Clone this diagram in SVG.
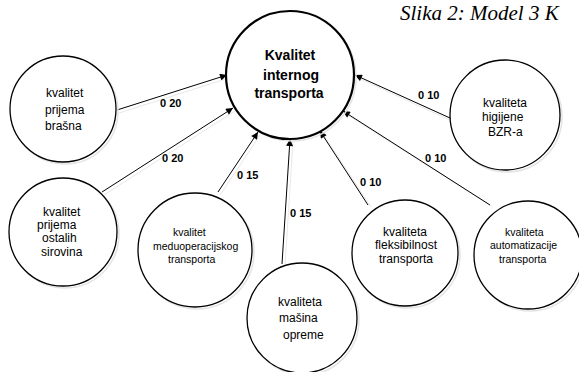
<svg xmlns="http://www.w3.org/2000/svg" width="579" height="372" viewBox="0 0 579 372">
  <defs>
    <marker id="arrow" viewBox="0 0 10 10" refX="10" refY="5" markerWidth="8" markerHeight="7" markerUnits="userSpaceOnUse" orient="auto">
      <path d="M0,0 L10,5 L0,10 z" fill="#000"/>
    </marker>
  </defs>
  <style>
    .node { fill: #fff; stroke: #000; stroke-width: 1.3; }
    .main { fill: #fff; stroke: #000; stroke-width: 2.2; }
    .shadow { fill: none; stroke: #e4e4e4; stroke-width: 1.5; }
    .edge { stroke: #000; stroke-width: 1; fill: none; }
    .edge-shadow { stroke: #e8e8e8; stroke-width: 1; fill: none; }
    .t { font-family: "Liberation Sans", Arial, sans-serif; font-size: 12px; fill: #000; }
    .ts { font-family: "Liberation Sans", Arial, sans-serif; font-size: 10.5px; fill: #000; }
    .tm { font-family: "Liberation Sans", Arial, sans-serif; font-size: 14px; font-weight: bold; fill: #000; text-anchor: middle; }
    .lbl { font-family: "Liberation Sans", Arial, sans-serif; font-size: 11px; font-weight: bold; fill: #000; }
    .cap { font-family: "Liberation Serif", "Times New Roman", serif; font-size: 21px; font-style: italic; fill: #000; }
  </style>

  <rect width="579" height="372" fill="#fff"/>

  <!-- caption -->
  <text class="cap" x="400" y="19.5">Slika 2: Model 3 K</text>

  <!-- connectors -->
  <g id="connectors">
    <g class="edge-shadow">
      <line x1="119" y1="113" x2="229" y2="78"/>
      <line x1="104" y1="195" x2="235" y2="111"/>
      <line x1="220" y1="195" x2="260" y2="135"/>
      <line x1="285" y1="266" x2="293" y2="141"/>
      <line x1="371" y1="207" x2="323" y2="134"/>
      <line x1="493" y1="207" x2="346" y2="114"/>
      <line x1="452" y1="121" x2="358" y2="78"/>
    </g>
    <line class="edge" x1="117" y1="110" x2="227" y2="75" marker-end="url(#arrow)"/>
    <line class="edge" x1="102" y1="192" x2="233" y2="108" marker-end="url(#arrow)"/>
    <line class="edge" x1="218" y1="192" x2="258" y2="132" marker-end="url(#arrow)"/>
    <line class="edge" x1="282" y1="264" x2="290" y2="139" marker-end="url(#arrow)"/>
    <line class="edge" x1="368" y1="205" x2="320" y2="131" marker-end="url(#arrow)"/>
    <line class="edge" x1="490" y1="205" x2="343" y2="111" marker-end="url(#arrow)"/>
    <line class="edge" x1="450" y1="118" x2="355" y2="75" marker-end="url(#arrow)"/>

    <text class="lbl" x="160" y="107">0 20</text>
    <text class="lbl" x="162" y="162">0 20</text>
    <text class="lbl" x="237" y="179">0 15</text>
    <text class="lbl" x="290" y="217">0 15</text>
    <text class="lbl" x="360" y="186">0 10</text>
    <text class="lbl" x="425" y="162">0 10</text>
    <text class="lbl" x="418" y="99">0 10</text>
  </g>

  <!-- central node -->
  <g id="kvalitet-internog-transporta">
    <circle class="shadow" cx="292" cy="77" r="64"/>
    <circle class="main" cx="290" cy="75" r="64"/>
    <text class="tm" x="290" y="60">Kvalitet</text>
    <text class="tm" x="291" y="80">internog</text>
    <text class="tm" x="289" y="98">transporta</text>
  </g>

  <g id="prijem-brasna">
    <circle class="shadow" cx="65" cy="111" r="53"/>
    <circle class="node" cx="63" cy="109" r="53"/>
    <text class="t" x="46" y="97">kvalitet</text>
    <text class="t" x="45" y="114">prijema</text>
    <text class="t" x="45" y="130">brašna</text>
  </g>

  <g id="prijem-ostalih-sirovina">
    <circle class="shadow" cx="65" cy="234" r="54"/>
    <circle class="node" cx="63" cy="232" r="54"/>
    <text class="t" x="43" y="216">kvalitet</text>
    <text class="t" x="37" y="229">prijema</text>
    <text class="t" x="42" y="242">ostalih</text>
    <text class="t" x="41" y="256">sirovina</text>
  </g>

  <g id="meduoperacijski-transport">
    <circle class="shadow" cx="197" cy="252" r="57"/>
    <circle class="node" cx="195" cy="250" r="57"/>
    <text class="ts" x="173" y="236">kvalitet</text>
    <text class="ts" x="153" y="250">meduoperacijskog</text>
    <text class="ts" x="168" y="263">transporta</text>
  </g>

  <g id="masina-oprema">
    <circle class="shadow" cx="304" cy="320" r="55"/>
    <circle class="node" cx="302" cy="318" r="55"/>
    <text class="t" x="278" y="306">kvaliteta</text>
    <text class="t" x="279" y="322">mašina</text>
    <text class="t" x="283" y="339">opreme</text>
  </g>

  <g id="fleksibilnost-transporta">
    <circle class="shadow" cx="407" cy="255" r="53"/>
    <circle class="node" cx="405" cy="253" r="53"/>
    <text class="t" x="383" y="236">kvaliteta</text>
    <text class="t" x="375" y="249">fleksibilnost</text>
    <text class="t" x="379" y="263">transporta</text>
  </g>

  <g id="automatizacija-transporta">
    <circle class="shadow" cx="530" cy="257" r="54"/>
    <circle class="node" cx="528" cy="255" r="54"/>
    <text class="ts" x="505" y="236">kvaliteta</text>
    <text class="ts" x="490" y="249">automatizacije</text>
    <text class="ts" x="499" y="263">transporta</text>
  </g>

  <g id="higijena-bzr">
    <circle class="shadow" cx="507" cy="117" r="55"/>
    <circle class="node" cx="505" cy="115" r="55"/>
    <text class="t" x="483" y="107">kvaliteta</text>
    <text class="t" x="482" y="121">higijene</text>
    <text class="t" x="488" y="136">BZR-a</text>
  </g>
</svg>
